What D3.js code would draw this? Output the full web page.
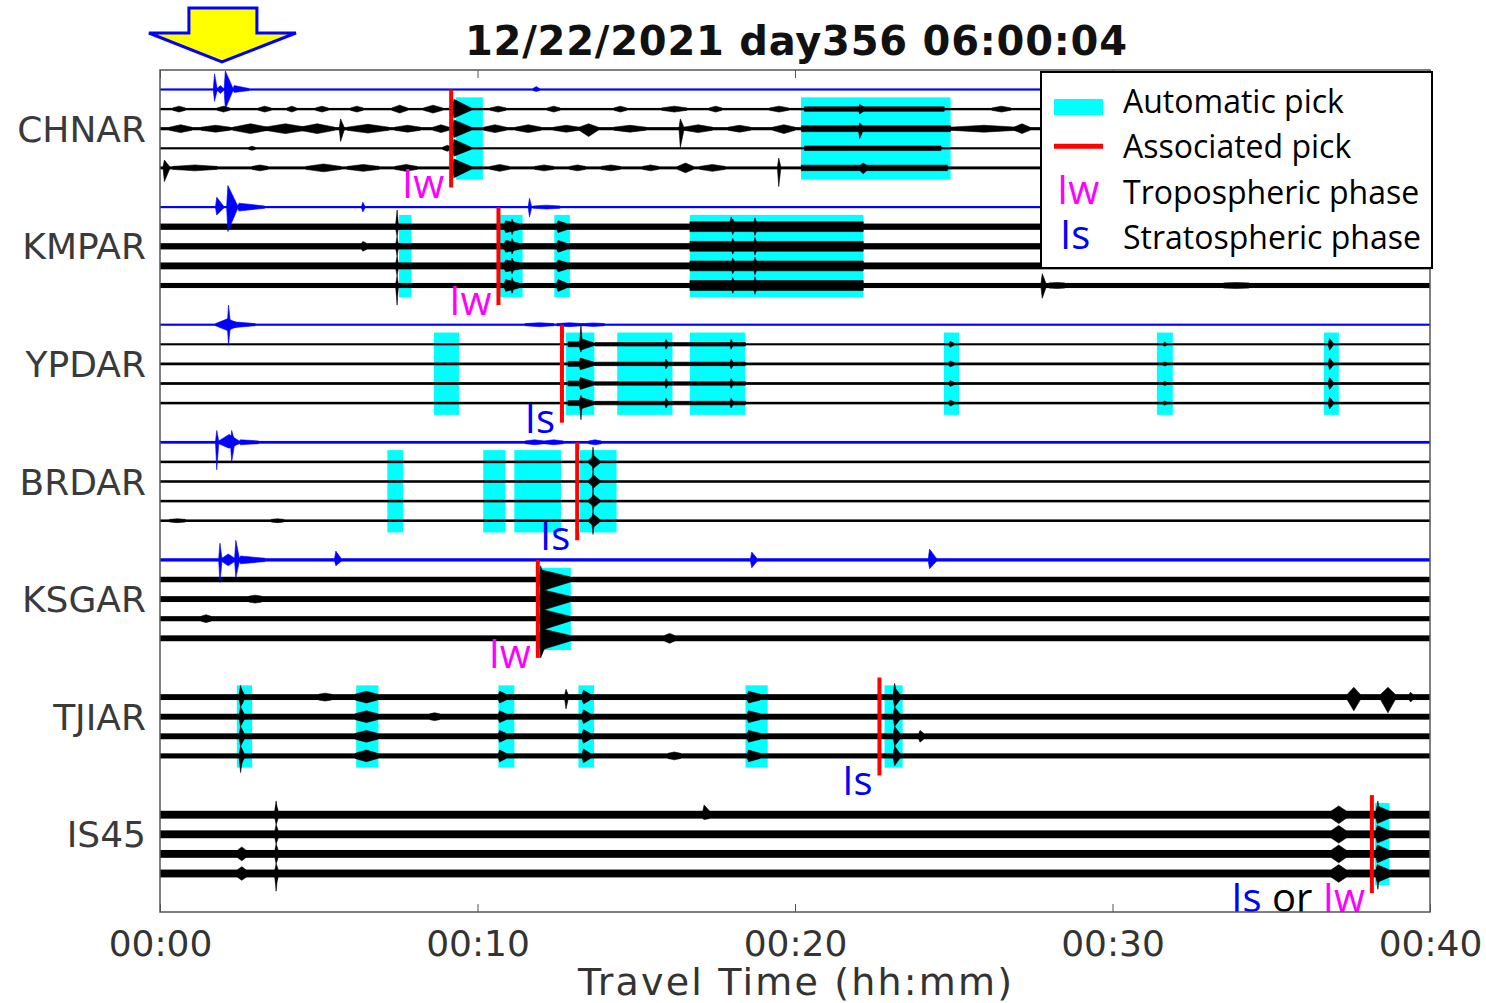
<!DOCTYPE html>
<html><head><meta charset="utf-8">
<script src="https://cdn.jsdelivr.net/npm/d3@7"></script>
<style>body{margin:0;background:#fff;} svg{display:block;}</style>
</head><body>
<script>
// ---------------- DATA ----------------
const stations = ["CHNAR","KMPAR","YPDAR","BRDAR","KSGAR","TJIAR","IS45"];
const tickMinutes = [0,10,20,30,40];
const tickLabels = ["00:00","00:10","00:20","00:30","00:40"];
const titleText = "12/22/2021 day356 06:00:04";
const axisTitle = "Travel Time (hh:mm)";
const eventArrowTime = 1.95; // minutes, arrival marked by the arrow

// background noise half-amplitude per channel (slot 0 = blue pressure channel, null = absent)
const noiseLevels = [
  [1.1,1.2,1.6,1.1,1.5],
  [1.1,3.2,3.2,3.5,2.6],
  [1.1,1.0,1.4,1.4,1.3],
  [1.4,1.3,1.3,1.3,1.3],
  [1.7,2.8,3.0,2.6,3.0],
  [null,3.0,3.0,3.0,2.6],
  [null,4.0,4.0,4.0,4.0]
];

// automatic picks: [station, start min, end min]
const autoPicks = [
  [0,9.32,10.17],[0,20.19,24.9],
  [1,7.53,7.92],[1,10.71,11.42],[1,12.42,12.91],[1,16.69,22.15],
  [2,8.63,9.42],[2,12.78,13.68],[2,14.4,16.14],[2,16.69,18.43],[2,24.69,25.17],[2,31.4,31.9],[2,36.66,37.13],
  [3,7.16,7.66],[3,10.18,10.88],[3,11.16,12.63],[3,13.23,14.38],
  [4,12.03,12.94],
  [5,2.42,2.9],[5,6.18,6.88],[5,10.66,11.16],[5,13.18,13.67],[5,18.44,19.14],[5,22.82,23.39],
  [6,38.27,38.72]
];
// associated picks: [station, minute]
const associatedPicks = [[0,9.17],[1,10.66],[2,12.66],[3,13.14],[4,11.9],[5,22.66],[6,38.17]];
// phase labels: [station, parts]
const phaseLabels = [
  [0,[["Iw","tropo"]]],[1,[["Iw","tropo"]]],[2,[["Is","strato"]]],[3,[["Is","strato"]]],
  [4,[["Iw","tropo"]]],[5,[["Is","strato"]]],[6,[["Is","strato"],[" or ","plain"],["Iw","tropo"]]]
];
const legendItems = [
  ["box","Automatic pick"],["line","Associated pick"],["Iw","Tropospheric phase"],["Is","Stratospheric phase"]
];

// waveform events: [slots, t start, t end, up amp, down amp, shape] shape s=spike b=burst f=flat
const eventsCHNAR = [
 [[0],1.68,1.8,16,12,"s"],[[0],1.8,2.0,4,4,"b"],[[0],2.02,2.3,19,20,"s"],[[0],2.3,2.8,4,3,"s"],[[0],11.75,11.95,3,2,"b"],
 [[1],0.4,0.8,3,3,"b"],[[1],1.8,2.2,3,3,"b"],[[1],3.1,3.5,3,3,"b"],[[1],4.0,4.3,3,3,"b"],[[1],4.9,5.3,3,3,"b"],[[1],6.0,6.4,3,3,"b"],[[1],7.3,7.8,4,4,"b"],[[1],8.3,8.9,4,4,"b"],[[1],9.22,9.8,10,9,"s"],[[1],10.4,10.9,3,3,"b"],[[1],12.2,12.6,3,3,"b"],[[1],14.3,14.7,3,3,"b"],[[1],15.8,16.6,3,3,"b"],[[1],17.3,17.7,3,3,"b"],[[1],19.2,19.8,3,3,"b"],[[1],20.3,24.7,2.3,2.3,"f"],[[1],22.0,22.2,5,5,"s"],[[1],26.2,26.8,3,3,"b"],
 [[2],0.3,1.0,4,4,"b"],[[2],1.3,2.2,3.5,3.5,"b"],[[2],2.3,3.4,5,5,"b"],[[2],3.3,4.6,5,5,"b"],[[2],4.4,5.5,5,5,"b"],[[2],5.65,5.8,10,13,"s"],[[2],5.9,7.2,4.5,4.5,"b"],[[2],7.4,8.2,3.5,3.5,"b"],[[2],8.6,9.1,4,4,"b"],[[2],9.22,9.8,9,9,"s"],[[2],10.2,10.9,4,4,"b"],[[2],11.2,12.0,4,4,"b"],[[2],12.4,13.2,3.5,3.5,"b"],[[2],13.2,13.8,5,8,"b"],[[2],14.3,15.3,3.5,3.5,"b"],[[2],16.35,16.5,10,19,"s"],[[2],16.5,17.4,4,4,"b"],[[2],17.9,18.6,3.5,3.5,"b"],[[2],19.3,20.0,4,5,"b"],[[2],20.2,24.9,3,3,"f"],[[2],22.0,22.15,6,10,"s"],[[2],24.9,27.0,3.5,3.5,"b"],[[2],26.9,27.4,5,5,"b"],
 [[3],2.8,3.0,2,2,"b"],[[3],8.9,9.2,3,3,"b"],[[3],9.22,9.8,9,8,"s"],[[3],20.3,24.6,2.3,2.3,"f"],
 [[4],0.1,0.3,8,14,"s"],[[4],0.4,1.8,3,3,"b"],[[4],2.9,3.4,3,3,"b"],[[4],4.6,5.7,4,4,"b"],[[4],5.9,6.9,3.5,3.5,"b"],[[4],7.4,8.1,3.5,3.5,"b"],[[4],9.22,9.8,9,10,"s"],[[4],10.4,11.0,3.5,3.5,"b"],[[4],11.8,12.4,3,3,"b"],[[4],12.9,13.4,3,3,"b"],[[4],13.9,14.5,3,3,"b"],[[4],15.2,15.7,3,3,"b"],[[4],16.3,16.8,5,5,"b"],[[4],17.0,17.8,3.5,3.5,"b"],[[4],19.45,19.55,10,19,"s"],[[4],20.2,24.8,2.8,2.8,"f"],[[4],22.0,22.3,5,6,"b"]
];
const eventsKMPAR = [
 [[0],1.75,2.0,10,8,"s"],[[0],2.1,2.45,22,25,"s"],[[0],2.45,3.3,4,4,"s"],[[0],6.35,6.45,5,5,"s"],[[0],11.6,11.7,9,10,"s"],[[0],11.75,12.6,2,2,"b"],
 [[1,2,3,4],7.43,7.5,10,10,"s"],[[1],7.43,7.5,17,3,"s"],[[4],7.43,7.5,3,20,"s"],
 [[2],6.35,6.5,5,5,"s"],
 [[1,2,3,4],10.85,11.3,6,6,"s"],[[1,2,3,4],11.05,11.15,8,8,"s"],[[1,2,3,4],12.5,12.8,6,6,"s"],
 [[1,2,3,4],16.69,22.15,5,5,"f"],[[1],17.95,18.05,10,4,"s"],[[1,2,3,4],18.0,18.1,8,8,"s"],[[1,2,3,4],18.7,18.8,9,9,"s"],
 [[4],27.75,27.9,12,13,"s"],[[4],28.0,28.5,3,3,"b"],[[4],33.5,34.3,3,3,"b"]
];
const eventsYPDAR = [
 [[0],1.75,2.5,6,6,"b"],[[0],2.12,2.22,20,21,"s"],[[0],2.25,3.0,3,3,"s"],[[0],11.5,12.4,2,2,"b"],[[0],12.5,13.3,2,2,"b"],[[0],13.3,14.0,1.8,1.8,"b"],
 [[1,2,3,4],12.85,13.2,2.5,2.5,"f"],[[1,2,3,4],13.2,13.7,6,6,"s"],[[1],13.22,13.3,20,8,"s"],[[4],13.22,13.3,8,17,"s"],
 [[1,2,3,4],13.7,18.44,1.8,1.8,"f"],[[1,2,3,4],15.9,16.0,5,5,"s"],[[1,2,3,4],17.95,18.05,5,5,"s"],
 [[1,2,3,4],24.85,25.0,3,3,"s"],[[1,2,3,4],31.6,31.7,2,2,"s"],[[1,2,3,4],36.8,36.95,6,6,"s"]
];
const eventsBRDAR = [
 [[0],1.75,1.85,12,28,"s"],[[0],1.85,2.5,8,6,"b"],[[0],2.22,2.35,12,20,"s"],[[0],2.5,3.1,2.5,2.5,"s"],[[0],11.5,12.1,2.5,2.5,"b"],[[0],12.1,12.7,2.5,2.5,"b"],[[0],13.5,13.9,2.5,2.5,"b"],
 [[1,2,3,4],13.5,13.85,6,6,"b"],[[1],13.6,13.68,15,10,"s"],[[2,3],13.6,13.68,10,10,"s"],[[4],13.6,13.68,10,14,"s"],
 [[4],0.3,0.8,2,2,"b"],[[4],3.5,3.9,2,2,"b"]
];
const eventsKSGAR = [
 [[0],1.85,1.95,17,23,"s"],[[0],1.95,2.35,6,6,"b"],[[0],2.35,2.5,20,18,"s"],[[0],2.5,3.3,4,4,"s"],[[0],5.5,5.7,9,6,"s"],[[0],18.6,18.8,8,8,"s"],[[0],24.2,24.45,11,9,"s"],
 [[1,2,3,4],11.95,12.9,10,12,"s"],[[1],11.95,12.1,14,8,"s"],[[4],11.95,12.2,8,20,"s"],
 [[4],15.9,16.2,5,5,"b"],[[2],2.8,3.2,4,4,"b"],[[3],1.3,1.6,4,4,"b"]
];
const eventsTJIAR = [
 [[1,2,3,4],2.5,2.65,10,10,"s"],[[1],2.5,2.6,12,3,"s"],[[4],2.5,2.6,4,17,"s"],
 [[1,2,3,4],6.15,6.85,6,6,"b"],[[1,2,3,4],10.66,10.9,6,6,"s"],[[1],12.75,12.85,8,12,"s"],
 [[1,2,3,4],13.3,13.55,7,7,"s"],[[1,2,3,4],18.5,18.9,6,6,"s"],
 [[1,2,3,4],23.1,23.3,10,10,"s"],[[1],23.1,23.2,14,4,"s"],[[3],23.9,24.05,6,6,"s"],
 [[1],37.4,37.8,10,14,"b"],[[1],38.45,38.9,10,16,"b"],[[1],39.35,39.45,5,5,"s"],
 [[1],5.0,5.4,4,4,"b"],[[2],8.5,8.8,4,4,"b"],[[4],16.0,16.4,4,4,"b"]
];
const eventsIS45 = [
 [[1,2,3,4],3.62,3.72,10,10,"s"],[[1],3.62,3.7,14,4,"s"],[[4],3.62,3.7,4,18,"s"],
 [[3,4],2.45,2.7,7,7,"b"],[[1],17.1,17.3,10,5,"s"],
 [[1,2,3,4],36.9,37.35,9,9,"b"],
 [[1,2,3,4],38.3,38.7,9,9,"s"],[[1],38.32,38.4,14,4,"s"],[[4],38.32,38.4,4,16,"s"]
];
const stationEvents = [eventsCHNAR,eventsKMPAR,eventsYPDAR,eventsBRDAR,eventsKSGAR,eventsTJIAR,eventsIS45];

// ---------------- CHART ----------------
const W = 1486, H = 1003;
const plot = {left:160, right:1430, top:70, bottom:912};
const svg = d3.select("body").append("svg").attr("width",W).attr("height",H);

const x = d3.scaleLinear().domain([0,40]).range([plot.left, plot.right]);
const yRow = d3.scaleLinear().domain([0,40]).range([89.5, 873.5]);
const amp = d3.scaleLinear().domain([0,20]).range([0,19.6]);
const row = (s, slot) => s*6 + slot;
const colors = {cyan:"#00ffff", red:"#ff0000", blue:"#0000ff", magenta:"#ff00ff", black:"#000"};
const phaseColor = {tropo:colors.magenta, strato:colors.blue, plain:"#000"};

svg.append("defs").append("clipPath").attr("id","plotclip")
  .append("rect").attr("x",plot.left).attr("y",plot.top)
  .attr("width",plot.right-plot.left).attr("height",plot.bottom-plot.top);

const g = svg.append("g").attr("clip-path","url(#plotclip)");

// automatic picks
g.selectAll("rect.pick").data(autoPicks).join("rect").attr("class","pick")
  .attr("x",d=>x(d[1])).attr("width",d=>x(d[2])-x(d[1]))
  .attr("y",d=>yRow(row(d[0],0.4))).attr("height",d=>yRow(row(d[0],4.6))-yRow(row(d[0],0.4)))
  .attr("fill",colors.cyan);

// traces
const traces = [];
noiseLevels.forEach((lv,s)=>lv.forEach((n,slot)=>{ if(n!==null) traces.push({s,slot,n}); }));
const line = d3.line();
g.selectAll("rect.trace").data(traces).join("rect").attr("class","trace")
  .attr("x",x(0)).attr("width",x(40)-x(0))
  .attr("y",d=>yRow(row(d.s,d.slot))-Math.max(amp(d.n),1.05))
  .attr("height",d=>2*Math.max(amp(d.n),1.05))
  .attr("fill",d=>d.slot===0?colors.blue:colors.black);

// waveform events
const evs = [];
stationEvents.forEach((list,s)=>list.forEach(e=>e[0].forEach(slot=>{
  evs.push({s,slot,t0:e[1],t1:e[2],up:e[3],down:e[4],shape:e[5],n:noiseLevels[s][slot]});
})));
function evPath(d){
  const y0 = yRow(row(d.s,d.slot)), n = Math.max(amp(d.n),1.05);
  const xa = x(d.t0), xb = x(d.t1), u = amp(d.up), dn = amp(d.down);
  let pts;
  if(d.shape==="s"){
    const xp = Math.min(xa+1.2, xb);
    pts = [[xa,y0-n],[xp,y0-u],[xb,y0-n],[xb,y0+n],[xp,y0+dn],[xa,y0+n]];
  } else if(d.shape==="b"){
    const xm=(xa+xb)/2;
    pts = [[xa,y0-n],[xm,y0-u],[xb,y0-n],[xb,y0+n],[xm,y0+dn],[xa,y0+n]];
  } else {
    pts = [[xa,y0-u],[xb,y0-u],[xb,y0+dn],[xa,y0+dn]];
  }
  return line(pts)+"Z";
}
g.selectAll("path.ev").data(evs).join("path").attr("class","ev")
  .attr("d",evPath).attr("fill",d=>d.slot===0?colors.blue:colors.black)
  .attr("stroke",d=>d.slot===0?colors.blue:colors.black).attr("stroke-width",0.6);

// associated picks
g.selectAll("line.assoc").data(associatedPicks).join("line").attr("class","assoc")
  .attr("x1",d=>x(d[1])).attr("x2",d=>x(d[1]))
  .attr("y1",d=>yRow(row(d[0],0))).attr("y2",d=>yRow(row(d[0],5)))
  .attr("stroke",colors.red).attr("stroke-width",4);

// phase labels
const hasBlue = s => noiseLevels[s][0]!==null;
const pl = svg.selectAll("text.phase").data(phaseLabels).join("text").attr("class","phase")
  .attr("x",d=>x(associatedPicks.find(a=>a[0]===d[0])[1])-7)
  .attr("y",d=>yRow(row(d[0],5))+(hasBlue(d[0])?10:19))
  .attr("text-anchor","end").attr("font-family","'Open Sans', sans-serif").attr("font-size",40);
pl.selectAll("tspan").data(d=>d[1]).join("tspan").text(d=>d[0]).attr("fill",d=>phaseColor[d[1]]);

// frame
svg.append("rect").attr("x",plot.left).attr("y",plot.top)
  .attr("width",plot.right-plot.left).attr("height",plot.bottom-plot.top)
  .attr("fill","none").attr("stroke","#555").attr("stroke-width",1.5);

// axes
const axB = d3.axisBottom(x).tickValues(tickMinutes).tickFormat((d,i)=>tickLabels[i]).tickSize(-8).tickPadding(18);
const gB = svg.append("g").attr("transform",`translate(0,${plot.bottom})`).call(axB);
gB.select(".domain").remove();
gB.selectAll(".tick line").attr("stroke","#555");
gB.selectAll(".tick text").attr("font-family","'DejaVu Sans', sans-serif").attr("font-size",36).attr("fill","#333");
const axT = d3.axisTop(x).tickValues(tickMinutes).tickFormat("").tickSize(-8);
const gT = svg.append("g").attr("transform",`translate(0,${plot.top})`).call(axT);
gT.select(".domain").remove();
gT.selectAll(".tick line").attr("stroke","#555");

svg.append("text").attr("x",x(20)).attr("y",995).attr("text-anchor","middle")
  .attr("font-family","'DejaVu Sans', sans-serif").attr("font-size",38).attr("fill","#333")
  .attr("textLength",434).attr("lengthAdjust","spacing").text(axisTitle);

// station names
svg.selectAll("text.stn").data(stations).join("text").attr("class","stn")
  .attr("x",146).attr("y",(d,i)=>yRow(row(i,2))+13).attr("text-anchor","end")
  .attr("font-family","'DejaVu Sans', sans-serif").attr("font-size",36).attr("fill","#3a3a3a").text(d=>d);

// title
svg.append("text").attr("x",796).attr("y",55).attr("text-anchor","middle")
  .attr("font-family","'DejaVu Sans', sans-serif").attr("font-weight","bold").attr("font-size",40)
  .attr("textLength",662).attr("lengthAdjust","spacing")
  .attr("fill","#111").text(titleText);

// arrow marking the event
const ax0 = x(eventArrowTime);
const arrowPts = [[-33,8],[35,8],[35,33],[74,33],[0,62],[-73,33],[-33,33]].map(p=>[ax0+p[0],p[1]]);
svg.append("path").attr("d",line(arrowPts)+"Z").attr("fill","#ffff00")
  .attr("stroke","#0000ff").attr("stroke-width",3);

// legend
const lg = svg.append("g");
lg.append("rect").attr("x",1041).attr("y",72).attr("width",391).attr("height",196)
  .attr("fill","#fff").attr("stroke","#000").attr("stroke-width",2);
legendItems.forEach((it,i)=>{
  const yb = 113 + i*45.3;
  if(it[0]==="box") lg.append("rect").attr("x",1054).attr("y",yb-14).attr("width",49).attr("height",16).attr("fill",colors.cyan);
  else if(it[0]==="line") lg.append("line").attr("x1",1054).attr("x2",1103).attr("y1",yb-12).attr("y2",yb-12).attr("stroke",colors.red).attr("stroke-width",5);
  else lg.append("text").attr("x",it[0]==="Iw"?1057:1060).attr("y",yb).attr("font-family","'Open Sans', sans-serif")
        .attr("font-size",40).attr("fill",it[0]==="Iw"?colors.magenta:colors.blue).text(it[0]);
  lg.append("text").attr("x",1123).attr("y",yb).attr("font-family","'Open Sans', sans-serif")
    .attr("font-size",32).attr("fill","#000").text(it[1]);
});
</script>
</body></html>
